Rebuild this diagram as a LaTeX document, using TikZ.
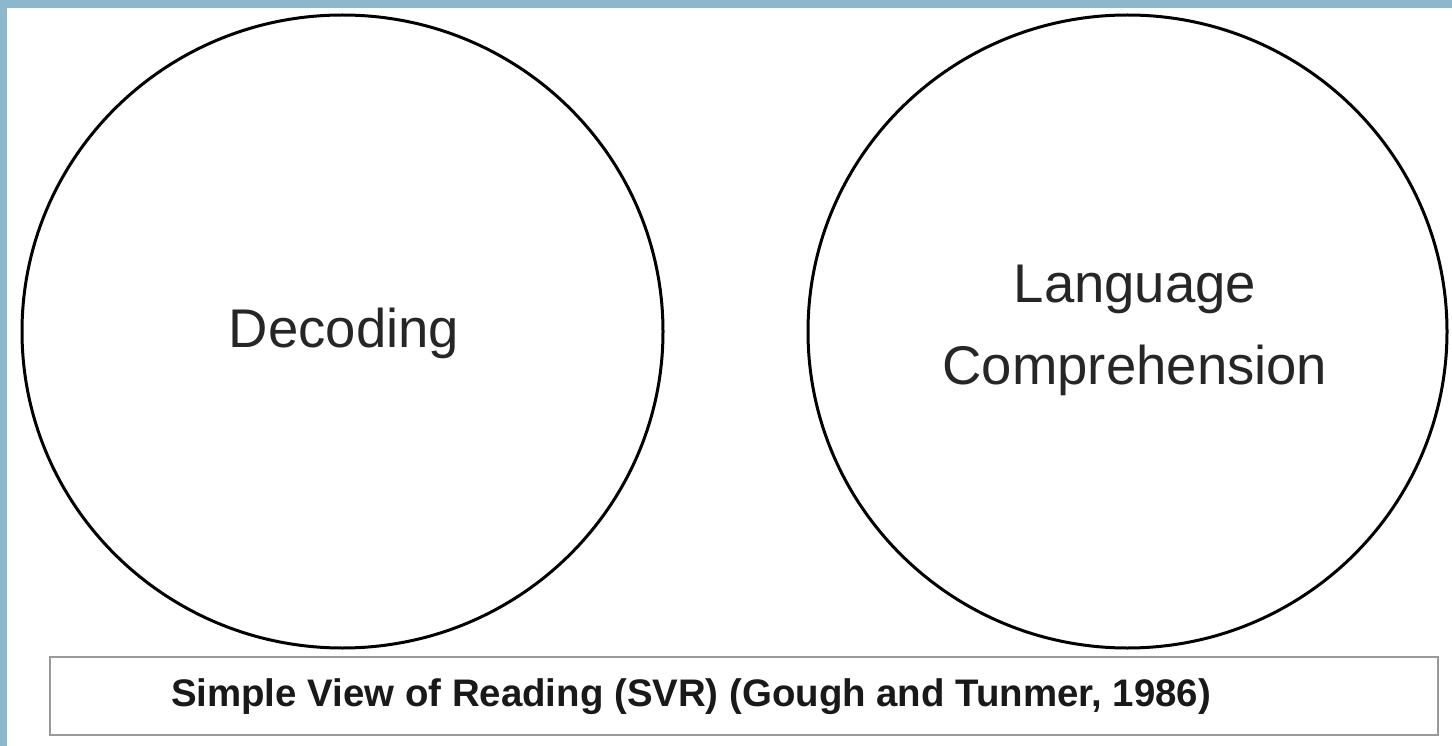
\documentclass[tikz,border=0pt]{standalone}
\usepackage{fontspec}
\setmainfont{Liberation Sans}
\definecolor{frameblue}{HTML}{8DB8CB}
\definecolor{boxgray}{HTML}{999999}
\tikzset{
  ring/.style={draw=black, line width=3pt},
  lbl/.style={font=\fontsize{54.5}{82}\selectfont, align=center, text=black!85},
  caption/.style={font=\bfseries\fontsize{38.4}{42}\selectfont, text=black!90},
  capbox/.style={draw=boxgray, line width=2pt}
}
\begin{document}
\begin{tikzpicture}[x=1pt,y=-1pt]
\useasboundingbox (0,0) rectangle (1452,746);
\fill[frameblue] (0,0) rectangle (1452,746);
\fill[white] (7,8) rectangle (1452,746);
\draw[ring] (342.5,331.5) ellipse [x radius=320.5, y radius=316.5];
\draw[ring] (1127.5,331.5) ellipse [x radius=319.5, y radius=316.5];
\node[lbl] (dec) at (344,333) {Decoding};
\node[lbl] (lang) at (1135,330) {Language\\Comprehension};
\draw[capbox] (50,657) rectangle (1438,735);
\node[caption] (cap) at (691,697) {Simple View of Reading (SVR) (Gough and Tunmer, 1986)};
\end{tikzpicture}
\end{document}
